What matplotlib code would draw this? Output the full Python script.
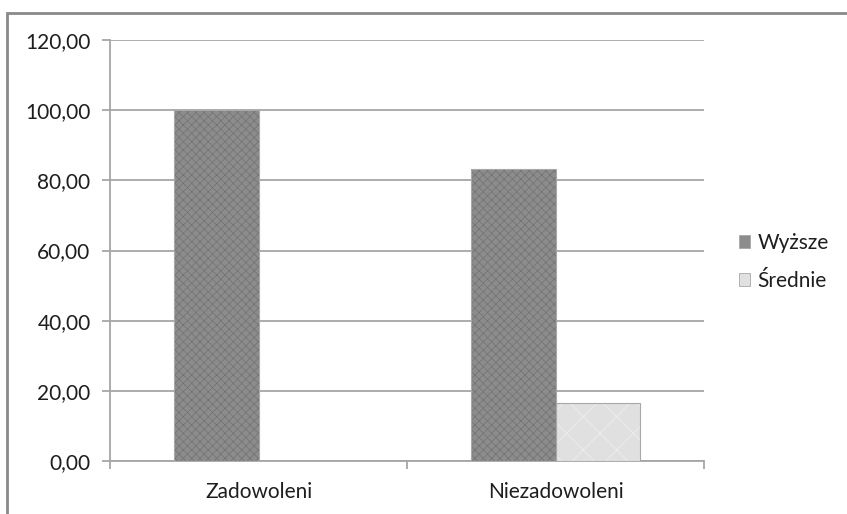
import numpy as np
import matplotlib
matplotlib.use('Agg')
import matplotlib.pyplot as plt
from matplotlib.patches import Rectangle, Patch
from matplotlib.ticker import FuncFormatter, FixedLocator

# Data
categories = ['Zadowoleni', 'Niezadowoleni']
series_names = ['Wyższe', 'Średnie']
wyzsze = [100.00, 83.33]
srednie = [0.00, 16.67]

plt.rcParams['font.family'] = ['Lato', 'DejaVu Sans']
plt.rcParams['hatch.linewidth'] = 0.5

fig = plt.figure(figsize=(8.47, 5.14), dpi=100)

# Outer chart frame (only left and top edges visible)
fig.add_artist(Rectangle((7 / 847, -0.05), 1.0, (514 - 13) / 514 + 0.05,
                         transform=fig.transFigure, fill=False,
                         edgecolor='#8a8a8a', linewidth=2))

ax = fig.add_axes([110 / 847, 1 - 461 / 514, 594 / 847, 421 / 514])

x = np.arange(len(categories))
w = 0.286

styles = [
    dict(face='#8c8c8c', hatch_col='#727272', hatch='xxxx'),
    dict(face='#e0e0e0', hatch_col='#f0f0f0', hatch='x'),
]

for vals, off, st in [(wyzsze, -w / 2, styles[0]), (srednie, w / 2, styles[1])]:
    ax.bar(x + off, vals, width=w, color=st['face'], edgecolor=st['hatch_col'],
           hatch=st['hatch'], linewidth=0, zorder=3)
    ax.bar(x + off, vals, width=w, fill=False, edgecolor='#a8a8a8',
           linewidth=0.8, zorder=4)

fs = 15

ax.set_xlim(-0.5, 1.5)
ax.set_ylim(0, 120)
ax.set_yticks(np.arange(0, 121, 20))
ax.yaxis.set_major_formatter(FuncFormatter(lambda v, p: f'{v:.2f}'.replace('.', ',')))
ax.grid(axis='y', color='#a6a6a6', linewidth=1.3, zorder=0)

ax.set_xticks(x)
ax.set_xticklabels(categories)
ax.xaxis.set_minor_locator(FixedLocator([-0.5, 0.5, 1.5]))
ax.tick_params(axis='x', which='major', length=0, pad=15, labelsize=fs, colors='#1e1e1e')
ax.tick_params(axis='x', which='minor', length=6, width=1.3, color='#a6a6a6', direction='out')
ax.tick_params(axis='y', length=6, width=1.3, color='#a6a6a6', pad=8,
               labelsize=fs, labelcolor='#1e1e1e')

for s in ['top', 'right']:
    ax.spines[s].set_visible(False)
for s in ['left', 'bottom']:
    ax.spines[s].set_color('#a6a6a6')
    ax.spines[s].set_linewidth(1.3)

handles = [Patch(facecolor=styles[0]['face'], edgecolor='#a8a8a8', linewidth=0.6),
           Patch(facecolor=styles[1]['face'], edgecolor='#a8a8a8', linewidth=0.6)]
fig.legend(handles, series_names, loc='center left',
           bbox_to_anchor=(720 / 847, 1 - 262 / 514), frameon=False,
           fontsize=fs, handlelength=0.55, handleheight=0.55,
           handletextpad=0.35, labelspacing=0.85, labelcolor='#1e1e1e')

fig.savefig('out.png', dpi=100)
